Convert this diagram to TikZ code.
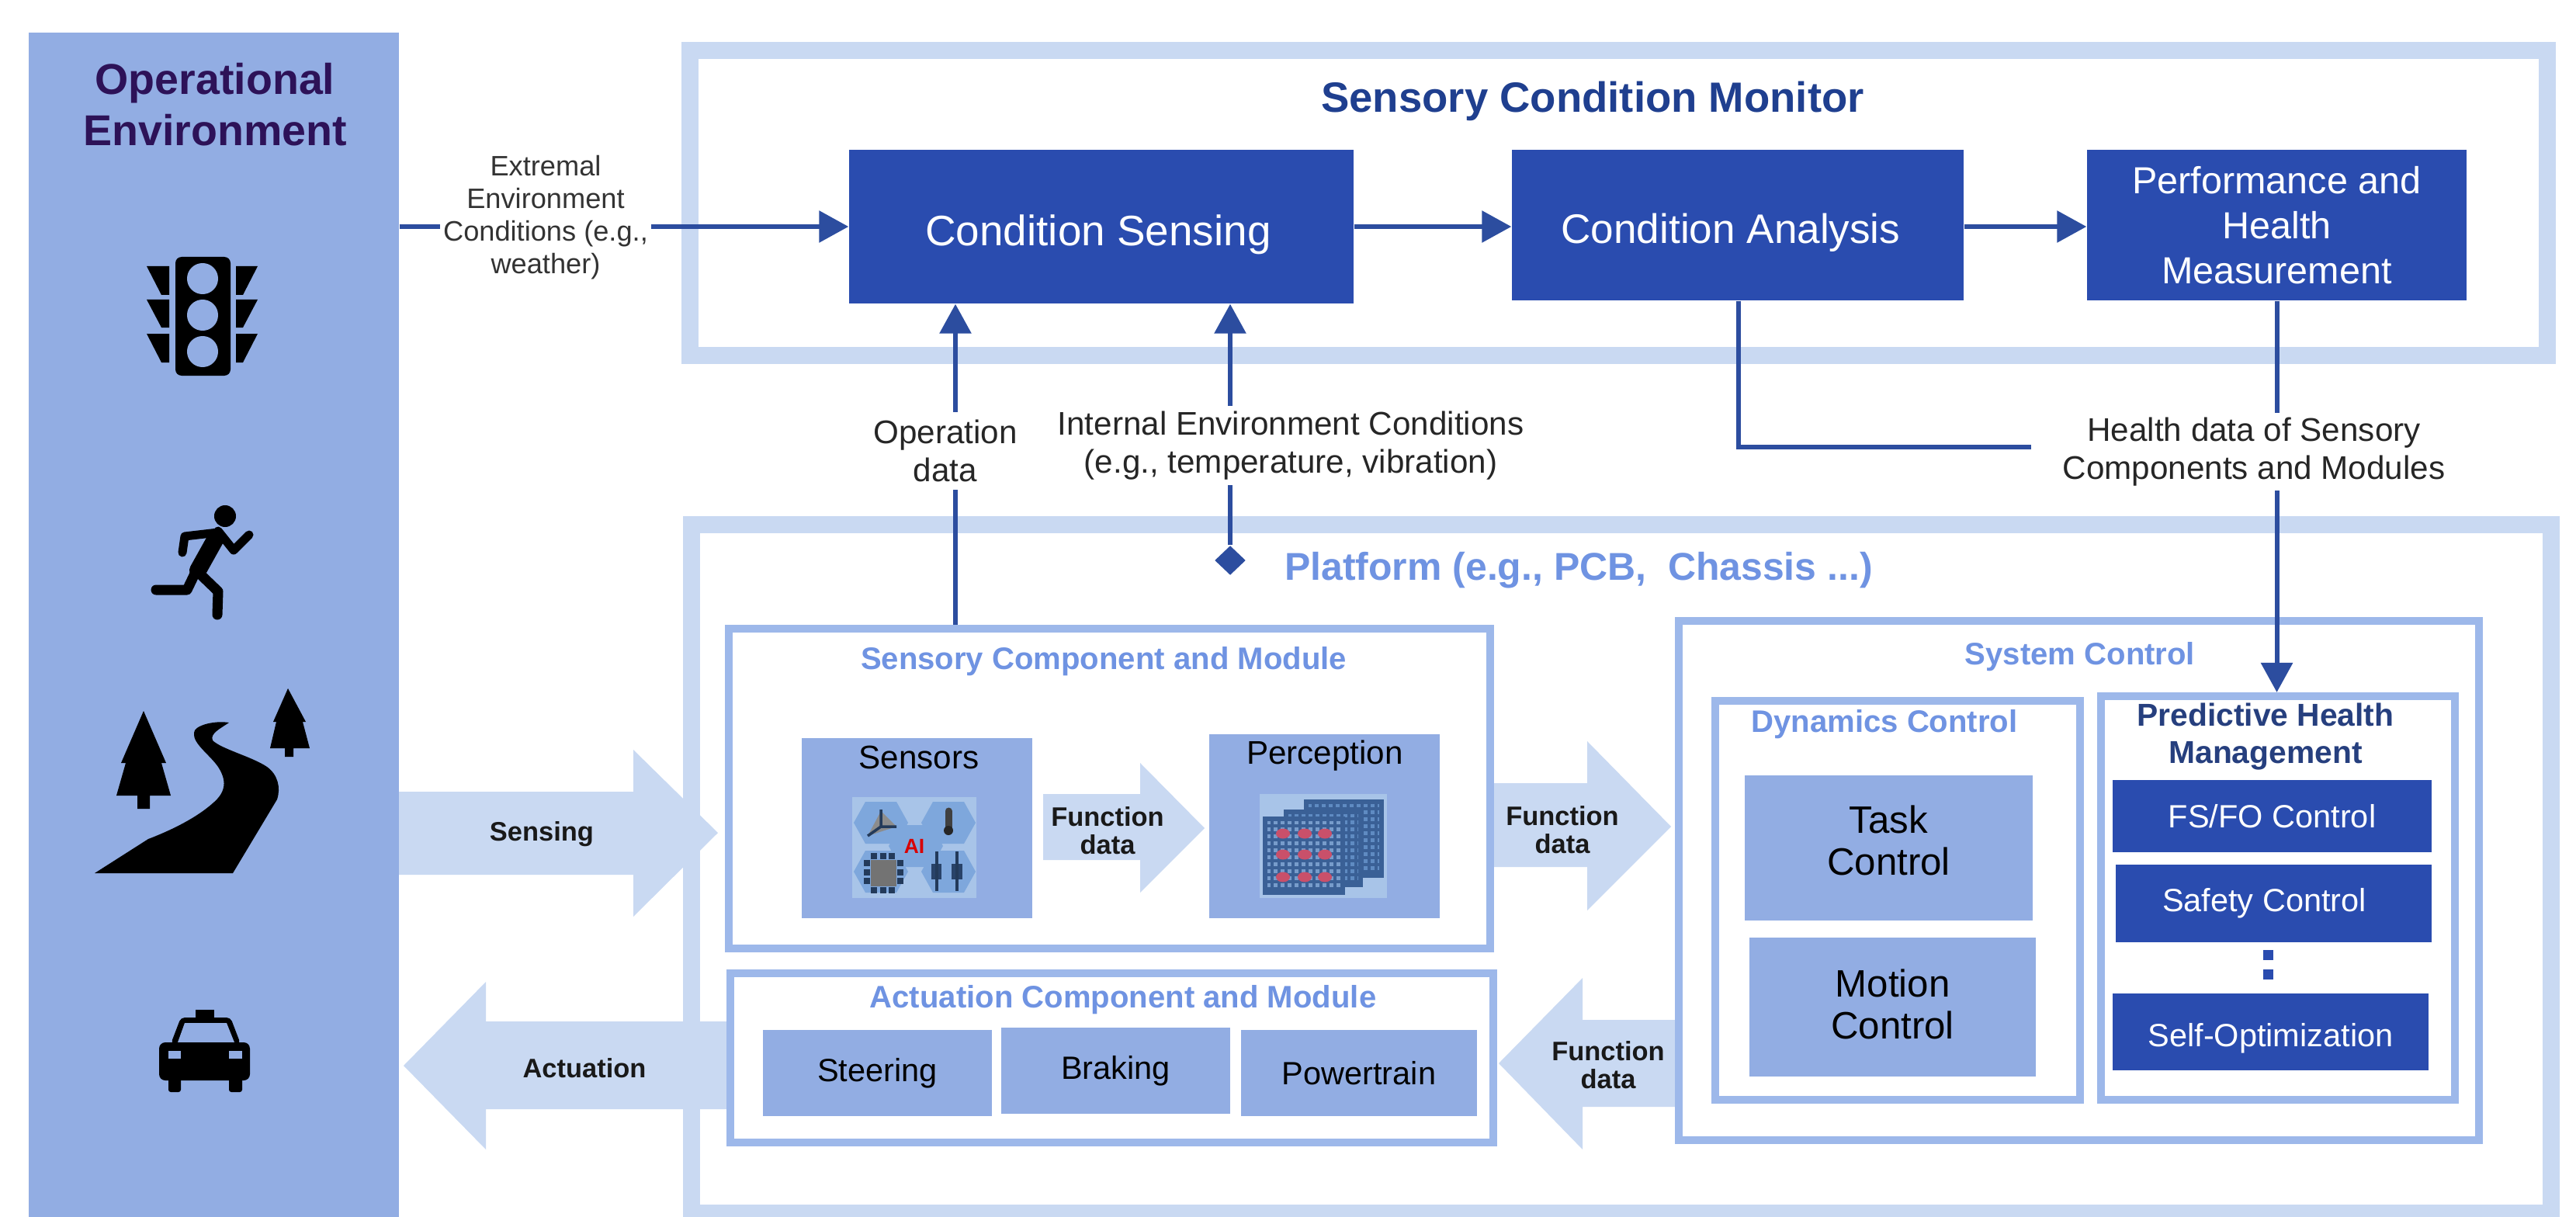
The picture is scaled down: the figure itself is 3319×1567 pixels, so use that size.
\documentclass[tikz,border=0pt]{standalone}
\usepackage{fontspec}
\setmainfont{Liberation Sans}
\usetikzlibrary{arrows.meta,shapes.geometric}
\definecolor{panelblue}{HTML}{92ADE3}
\definecolor{bandblue}{HTML}{C9D9F2}
\definecolor{framblue}{HTML}{9DB8EA}
\definecolor{darkbox}{HTML}{2A4CAF}
\definecolor{lineblue}{HTML}{2C4D9F}
\definecolor{navy}{HTML}{1F3F8F}
\definecolor{titleblue}{HTML}{6F93E2}
\definecolor{purpledark}{HTML}{2D1258}
\definecolor{darknavy}{HTML}{263F7E}
\definecolor{paleblue}{HTML}{A8C4E8}
\definecolor{hexblue}{HTML}{7EA7DC}
\definecolor{griddark}{HTML}{3A6096}
\definecolor{gridmid}{HTML}{5F8BC2}
\definecolor{gridred}{HTML}{C9506A}
\newcommand\fsz[2]{\fontsize{#1}{#2}\selectfont}
% style, name, x0, y0, x1, y1, text
\newcommand\boxat[7]{%
  \pgfmathsetmacro\bcx{(#3+#5)/2}\pgfmathsetmacro\bcy{(#4+#6)/2}%
  \pgfmathsetmacro\bw{(#5-#3)*0.01}\pgfmathsetmacro\bh{(#6-#4)*0.01}%
  \node[#1,minimum width=\bw cm,minimum height=\bh cm] (#2) at (\bcx,\bcy) {#7};}
\newcommand\gridstack[5]{%
  \fill[#5] (#1,#2) rectangle (#3,#4);
  \pgfmathsetmacro\gnx{int((#3-#1)/9)}\pgfmathsetmacro\gny{int((#4-#2)/9)}%
  \foreach \i in {0,...,\gnx}{\draw[griddark,line width=0.035cm] ({#1+\i*9},#2) -- ({#1+\i*9},#4);}
  \foreach \i in {0,...,\gny}{\draw[griddark,line width=0.035cm] (#1,{#2+\i*9}) -- (#3,{#2+\i*9});}
  \draw[griddark,line width=0.06cm] (#1,#2) rectangle (#3,#4);}
\tikzset{
  allbox/.style={inner sep=0pt,align=center,rectangle},
  band/.style={allbox,draw=bandblue,line width=0.22cm,fill=white},
  frame/.style={allbox,draw=framblue,line width=0.10cm,fill=white},
  dark/.style={allbox,fill=darkbox,text=white},
  light/.style={allbox,fill=panelblue,text=black},
  darktxt/.style={dark,font=\fsz{15.6}{18}},
  smalldark/.style={dark,font=\fsz{11.8}{13}},
  lightsm/.style={light,font=\fsz{11.8}{13}},
  lightbig/.style={light,font=\fsz{14}{15.4}},
  conn/.style={draw=lineblue,line width=0.06cm,-{Triangle[length=0.38cm,width=0.40cm]}},
  plainconn/.style={draw=lineblue,line width=0.06cm},
  lab/.style={fill=white,inner xsep=0.04cm,inner ysep=0pt,align=center,text=black!85,font=\fsz{12}{13.8}},
  labsm/.style={fill=white,inner xsep=0.04cm,inner ysep=0pt,align=center,text=black!80,font=\fsz{10.3}{12}},
  blockarrow/.style={fill=bandblue,draw=none},
  blocktxt/.style={inner sep=0pt,align=center,text=black!90,font=\bfseries\fsz{9.8}{10.2}},
  head/.style={inner sep=0pt,align=center,font=\bfseries\fsz{11.4}{13}},
  icon/.style={fill=black,draw=none},
  limb/.style={draw=black,line cap=round,line join=round},
}
\begin{document}
\begin{tikzpicture}[x=0.01cm,y=-0.01cm]
\useasboundingbox (0,0) rectangle (3319,1567);
\clip (0,0) rectangle (3319,1567);

% --- operational environment panel
\boxat{allbox,fill=panelblue}{panel}{37}{42}{514}{1600}{}
\node[inner sep=0pt,align=center,text=purpledark,font=\bfseries\fsz{15.8}{18.8}] (optitle) at (277,135) {Operational\\Environment};

% traffic light
\fill[icon,rounded corners=0.08cm] (226,331) rectangle (297,484);
\foreach \cy in {359,406,453}{\fill[panelblue] (261,\cy) circle (0.20cm);}
\foreach \a/\b in {343/380,386/422,430/467}{
  \fill[icon] (189,\a) -- (218,\a) -- (218,\b) -- (208,\b) -- cycle;
  \fill[icon] (332,\a) -- (304,\a) -- (304,\b) -- (313,\b) -- cycle;
}
% runner
\fill[icon] (290,665) circle (0.14cm);
\draw[limb,line width=0.22cm] (279,692) -- (255,735);
\draw[limb,line width=0.11cm] (281,686) -- (238,691) -- (235,712);
\draw[limb,line width=0.11cm] (281,684) -- (301,709) -- (321,689);
\draw[limb,line width=0.13cm] (253,735) -- (241,760) -- (201,760);
\draw[limb,line width=0.13cm] (253,735) -- (281,762) -- (280,792);
% road
\fill[icon] (122,1125) -- (300,1125) -- (357,1030) .. controls (362,1015) and (358,998) .. (344,988)
  .. controls (325,975) and (285,965) .. (274,954) .. controls (270,945) and (285,938) .. (295,931)
  .. controls (275,928) and (250,935) .. (250,944) .. controls (248,958) and (270,972) .. (281,988)
  .. controls (292,1005) and (292,1020) .. (274,1035) .. controls (255,1052) and (225,1068) .. (191,1081) -- cycle;
% trees
\fill[icon] (185,916) -- (156,983) -- (162,983) -- (150,1025) -- (177,1025) -- (177,1042) -- (193,1042) -- (193,1025) -- (220,1025) -- (208,983) -- (214,983) -- cycle;
\fill[icon] (371,887) -- (352,930) -- (356,930) -- (348,964) -- (367,964) -- (367,975) -- (378,975) -- (378,964) -- (399,964) -- (390,930) -- (394,930) -- cycle;
% taxi
\fill[icon] (252,1301) rectangle (276,1316);
\fill[icon,rounded corners=0.05cm] (220,1345) -- (233,1311) -- (297,1311) -- (310,1345) -- cycle;
\fill[panelblue] (229,1343) -- (238,1318) -- (292,1318) -- (302,1343) -- cycle;
\fill[icon,rounded corners=0.08cm] (205,1343) rectangle (322,1392);
\fill[icon,rounded corners=0.03cm] (217,1380) rectangle (233,1407);
\fill[icon,rounded corners=0.03cm] (295,1380) rectangle (312,1407);
\fill[panelblue] (217,1354) rectangle (233,1364);
\fill[panelblue] (295,1354) rectangle (312,1364);

% --- large frames
\boxat{band}{monitor}{889.5}{65.5}{3282}{457.5}{}
\boxat{band}{platform}{891.5}{676}{3286.5}{1563}{}
\node[inner sep=0pt,text=navy,font=\bfseries\fsz{15.5}{17}] (montitle) at (2052,130) {Sensory Condition Monitor};
\node[inner sep=0pt,text=titleblue,font=\bfseries\fsz{14.2}{17}] (plattitle) at (2034,735) {Platform (e.g., PCB,~ Chassis ...)};

% --- block arrows
\fill[blockarrow] (514,1020) -- (816,1020) -- (816,966) -- (925,1073) -- (816,1181) -- (816,1127) -- (514,1127) -- cycle;
\fill[blockarrow] (936,1316) -- (626,1316) -- (626,1265) -- (520,1373) -- (626,1481) -- (626,1429) -- (936,1429) -- cycle;
\fill[blockarrow] (1925,1009) -- (2045,1009) -- (2045,955) -- (2153,1065) -- (2045,1173) -- (2045,1117) -- (1925,1117) -- cycle;
\fill[blockarrow] (2158,1314) -- (2039,1314) -- (2039,1260) -- (1931,1370) -- (2039,1481) -- (2039,1426) -- (2158,1426) -- cycle;

% --- component frames
\boxat{frame}{sensory}{939}{810}{1920}{1222}{}
\boxat{frame}{actuation}{941}{1254}{1924}{1472}{}
\boxat{frame}{system}{2163}{800}{3194}{1469}{}
\boxat{frame}{dynamics}{2210}{903}{2680}{1417}{}
\boxat{frame}{predictive}{2707}{897}{3163}{1417}{}

\node[head,text=titleblue] (senstitle) at (1422,852) {Sensory Component and Module};
\node[head,text=titleblue] (acttitle) at (1447,1288) {Actuation Component and Module};
\node[head,text=titleblue] (systitle) at (2680,846) {System Control};
\node[head,text=titleblue] (dyntitle) at (2428,933) {Dynamics Control};
\node[head,text=darknavy,font=\bfseries\fsz{11.6}{13.4}] (predtitle) at (2919,949) {Predictive Health\\Management};

% --- monitor boxes
\boxat{darktxt,text height=17pt}{cs}{1094}{193}{1744}{391}{\hspace*{-0.08cm}Condition Sensing}
\boxat{darktxt,font=\fsz{15.1}{18},text height=16.5pt}{ca}{1948}{193}{2530}{387}{\hspace*{-0.18cm}Condition Analysis}
\boxat{dark,font=\fsz{13.8}{16.5}}{pm}{2689}{193}{3178}{387}{Performance and\\Health\\Measurement}

% --- sensors
\boxat{light}{sensors}{1033}{951}{1330}{1183}{}
\node[inner sep=0pt,font=\fsz{12}{14}] (sensorst) at (1184,976) {Sensors};
\fill[paleblue] (1098,1027) rectangle (1258,1157);
\foreach \cx/\cy in {1135/1060,1222/1060,1135/1123,1222/1123,1180/1090}{
  \fill[hexblue] ({\cx-35},\cy) -- ({\cx-20},{\cy-27}) -- ({\cx+20},{\cy-27}) -- ({\cx+35},\cy) -- ({\cx+20},{\cy+27}) -- ({\cx-20},{\cy+27}) -- cycle;}
\fill[black!45] (1135,1045) -- (1155,1065) -- (1118,1077) -- cycle;
\draw[griddark!60!black,line width=0.035cm] (1135,1043) -- (1135,1065) -- (1155,1065) (1135,1065) -- (1118,1077);
\draw[black!75,line width=0.09cm,line cap=round] (1222,1045) -- (1222,1066);
\fill[black!85] (1222,1070) circle (0.06cm);
\fill[black!55] (1122,1108) rectangle (1155,1142);
\draw[griddark!60!black,line width=0.08cm,densely dotted] (1117,1108) -- (1117,1142) (1160,1108) -- (1160,1142) (1122,1103) -- (1155,1103) (1122,1147) -- (1155,1147);
\fill[griddark!70!black] (1200,1113) rectangle (1213,1133);
\fill[griddark!70!black] (1226,1113) rectangle (1240,1133);
\draw[griddark!60!black,line width=0.04cm] (1207,1097) -- (1207,1148) (1233,1097) -- (1233,1148);
\node[inner sep=0pt,text=red!85!black,font=\bfseries\fsz{7.5}{8}] (ailabel) at (1178,1090) {AI};

% --- perception
\boxat{light}{perception}{1558}{946}{1855}{1183}{}
\node[inner sep=0pt,font=\fsz{12}{14}] (perceptiont) at (1707,974) {Perception};
\fill[paleblue] (1623,1023) rectangle (1787,1157);
\gridstack{1683}{1033}{1780}{1128}{gridmid}
\gridstack{1657}{1046}{1753}{1140}{gridmid}
\gridstack{1630}{1055}{1730}{1150}{gridmid!85!white}
\foreach \px in {1653,1681,1707}{\foreach \py in {1074,1101,1130}{
  \fill[gridred] (\px,\py) ellipse (0.09cm and 0.065cm);}}

% --- inner function arrow
\fill[blockarrow] (1344,1023) -- (1469,1023) -- (1469,983) -- (1552,1067) -- (1469,1150) -- (1469,1108) -- (1344,1108) -- cycle;

% --- actuators
\boxat{lightsm}{steering}{983}{1327}{1278}{1438}{Steering}
\boxat{lightsm}{braking}{1290}{1324}{1585}{1435}{Braking}
\boxat{lightsm}{powertrain}{1599}{1327}{1903}{1438}{Powertrain}

% --- control boxes
\boxat{lightbig,text depth=0.2cm}{task}{2248}{999}{2619}{1186}{Task\\Control}
\boxat{lightbig,text depth=0.08cm}{motion}{2254}{1208}{2623}{1387}{Motion\\Control}
\boxat{smalldark}{fsfo}{2722}{1005}{3133}{1098}{FS/FO Control}
\boxat{smalldark}{safety}{2726}{1114}{3133}{1214}{\hspace*{-0.24cm}Safety Control}
\boxat{smalldark,text height=13.3pt}{selfopt}{2722}{1280}{3129}{1379}{Self-Optimization}
\node[rectangle,fill=darkbox,inner sep=0pt,minimum size=0.13cm] (dota) at (2922,1230) {};
\node[rectangle,fill=darkbox,inner sep=0pt,minimum size=0.13cm] (dotb) at (2922,1255) {};

% --- connectors
\coordinate (opx) at (1231,600);
\coordinate (elbx) at (2240,500);
\node[diamond,fill=lineblue,inner sep=0pt,minimum width=0.40cm,minimum height=0.38cm] (dia) at (1585,722) {};
\draw[conn] (panel.east |- cs.west) -- (cs.west);
\draw[conn] (cs.east) -- (ca.west |- cs.east);
\draw[conn] (ca.east |- cs.east) -- (pm.west |- cs.east);
\draw[conn] (sensory.north -| opx) -- (cs.south -| opx);
\draw[conn] (dia) -- (cs.south -| dia);
\draw[conn] (pm.south) -- (predictive.north -| pm.south);

% --- connector labels
\node[labsm] (extlabel) at (703,280) {Extremal\\Environment\\Conditions (e.g.,\\weather)};
\node[lab,minimum height=1.0cm] (oplabel) at (1218,581) {Operation\\data};
\node[lab,minimum height=1.02cm] (intlabel) at (1663,574) {Internal Environment Conditions\\(e.g., temperature, vibration)};
\node[lab,minimum height=1.0cm,minimum width=5.72cm] (health) at (2904,582) {Health data of Sensory\\Components and Modules};
\draw[plainconn] (ca.south -| elbx) |- ([yshift=0.06cm]health.west);

% --- block arrow labels
\node[blocktxt] (sensinglab) at (698,1075) {Sensing};
\node[blocktxt] (actlab) at (753,1376) {Actuation};
\node[blocktxt] (fda) at (1427,1070) {Function\\data};
\node[blocktxt] (fdb) at (2013,1069) {Function\\data};
\node[blocktxt] (fdc) at (2072,1372) {Function\\data};
\end{tikzpicture}
\end{document}
